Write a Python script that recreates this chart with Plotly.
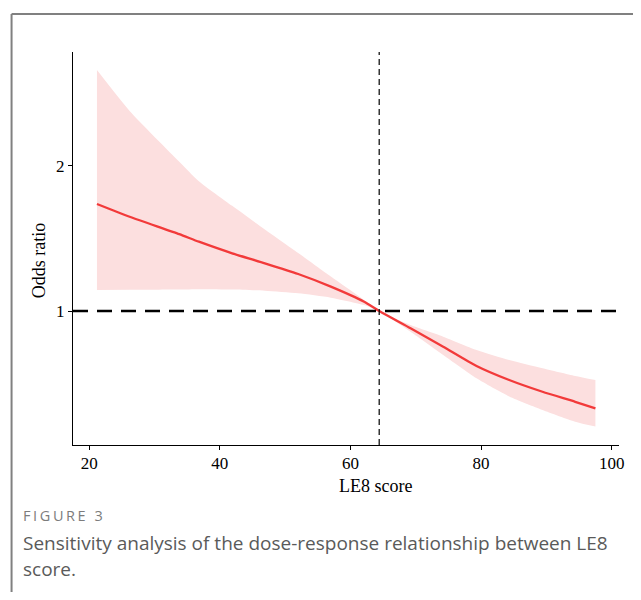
import plotly.graph_objects as go

# Data
le8 = [21.2, 26.2, 33.8, 36.8, 41.9, 46.9, 52.0, 57.0, 62.1, 64.4, 69.2, 74.2, 79.3, 84.3, 89.4, 94.4, 97.5]
or_est = [1.738, 1.650, 1.530, 1.478, 1.398, 1.329, 1.255, 1.168, 1.064, 1.000, 0.881, 0.754, 0.621, 0.524, 0.443, 0.374, 0.329]
or_upper = [2.662, 2.380, 2.030, 1.895, 1.725, 1.562, 1.400, 1.238, 1.076, 1.000, 0.903, 0.823, 0.731, 0.662, 0.605, 0.552, 0.524]
or_lower = [1.145, 1.146, 1.148, 1.150, 1.148, 1.140, 1.122, 1.092, 1.041, 1.000, 0.857, 0.697, 0.536, 0.411, 0.318, 0.237, 0.203]
x_ticks = [20, 40, 60, 80, 100]
y_ticks = [1, 2]
ref_x = 64.4
ref_y = 1

# page body has an 8px margin: work in reference pixels, shift by OFF
OFF = 8
W, H = 641 - 2 * OFF, 600 - 2 * OFF
PL, PR, PT, PB = 73, 624, 52, 445          # plot area in reference pixels
L, T = PL - OFF, PT - OFF
R, B = W - (PR - OFF), H - (PB - OFF)
pw, ph = W - L - R, H - T - B

def px(xp):
    return (xp - OFF - L) / pw

def py(yp):
    return (H - B - (yp - OFF)) / ph

band_col = "rgba(252,223,223,1)"
fig = go.Figure()
fig.add_trace(go.Scatter(
    x=le8, y=or_lower, mode="lines",
    line=dict(width=0, shape="spline", smoothing=0.6, color=band_col),
    hoverinfo="skip", showlegend=False))
fig.add_trace(go.Scatter(
    x=le8, y=or_upper, mode="lines", fill="tonexty", fillcolor=band_col,
    line=dict(width=0, shape="spline", smoothing=0.6, color=band_col),
    hoverinfo="skip", showlegend=False))
fig.add_trace(go.Scatter(
    x=le8, y=or_est, mode="lines",
    line=dict(color="#f23a3a", width=2.3, shape="spline", smoothing=0.6),
    showlegend=False))

# reference lines
fig.add_shape(type="line", xref="paper", yref="y", x0=0, x1=1, y0=ref_y, y1=ref_y,
              line=dict(color="black", width=2.6, dash="15px,9px"))
fig.add_shape(type="line", xref="x", yref="paper", x0=ref_x, x1=ref_x, y0=0, y1=1,
              line=dict(color="black", width=1.2, dash="6px,4px"))

serif = "Liberation Serif"
fig.update_xaxes(range=[17.53, 101.11], tickvals=x_ticks, showline=True, linecolor="black",
                 linewidth=1.2, ticks="outside", ticklen=4, tickcolor="black", showgrid=False,
                 zeroline=False, ticklabelstandoff=-2,
                 tickfont=dict(family=serif, size=17, color="black"))
fig.update_yaxes(range=[0.076, 2.786], tickvals=y_ticks, showline=True, linecolor="black",
                 linewidth=1.2, ticks="outside", ticklen=4, tickcolor="black", showgrid=False,
                 zeroline=False, tickfont=dict(family=serif, size=17, color="black"))

ann = [
    dict(text="LE8 score", x=px(378), y=py(486), font=dict(family=serif, size=18, color="black")),
    dict(text="Odds ratio", x=px(39), y=py(260), textangle=-90,
         font=dict(family=serif, size=18, color="black")),
    dict(text='<span style="letter-spacing:2.6px">FIGURE 3</span>', x=px(21), y=py(516),
         xanchor="left", font=dict(family="Open Sans", size=14.5, color="#7c7c7c")),
    dict(text="Sensitivity analysis of the dose-response relationship between LE8",
         x=px(21), y=py(543), xanchor="left",
         font=dict(family="Open Sans", size=19, color="#5a5a5a")),
    dict(text="score.", x=px(21), y=py(569), xanchor="left",
         font=dict(family="Open Sans", size=19, color="#5a5a5a")),
]
for a in ann:
    a.update(xref="paper", yref="paper", showarrow=False, yanchor="middle",
             xanchor=a.get("xanchor", "center"))
    fig.add_annotation(**a)

# figure frame (top and left edges)
fig.add_shape(type="line", xref="paper", yref="paper", x0=px(11), x1=px(641), y0=py(14), y1=py(14),
              line=dict(color="#808080", width=2))
fig.add_shape(type="line", xref="paper", yref="paper", x0=px(11), x1=px(11), y0=py(14), y1=py(600),
              line=dict(color="#808080", width=2))

fig.update_layout(width=W, height=H, margin=dict(l=L, r=R, t=T, b=B),
                  plot_bgcolor="white", paper_bgcolor="white", showlegend=False)
fig.write_html("out.html")
